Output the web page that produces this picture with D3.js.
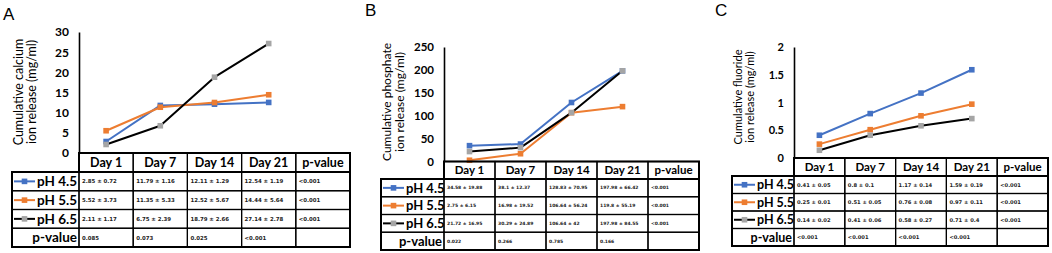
<!DOCTYPE html>
<html>
<head>
<meta charset="utf-8">
<script src="https://cdn.jsdelivr.net/npm/d3@7"></script>
<style>
  body { margin: 0; background: #fff; }
  svg { display: block; }
</style>
</head>
<body>
<div id="chart"></div>
<script>
const days = ["Day 1", "Day 7", "Day 14", "Day 21"];
const columns = ["Day 1", "Day 7", "Day 14", "Day 21", "p-value"];
const seriesNames = ["pH 4.5", "pH 5.5", "pH 6.5"];

// calcium
const calciumMean45 = [2.85, 11.79, 12.11, 12.54];
const calciumSd45 = [0.72, 1.16, 1.29, 1.19];
const calciumMean55 = [5.52, 11.35, 12.52, 14.44];
const calciumSd55 = [3.73, 5.33, 5.67, 5.64];
const calciumMean65 = [2.11, 6.75, 18.79, 27.14];
const calciumSd65 = [1.17, 2.39, 2.66, 2.78];
const calciumRowP = ["<0.001", "<0.001", "<0.001"];
const calciumDayP = ["0.085", "0.073", "0.025", "<0.001"];
const calciumTicks = [0, 5, 10, 15, 20, 25, 30];

// phosphate
const phosphateMean45 = [34.58, 38.1, 128.83, 197.98];
const phosphateSd45 = [19.88, 12.37, 70.95, 66.42];
const phosphateMean55 = [2.75, 16.98, 106.64, 119.8];
const phosphateSd55 = [6.15, 19.52, 56.24, 55.19];
const phosphateMean65 = [21.72, 30.29, 106.64, 197.98];
const phosphateSd65 = [16.95, 24.89, 42, 84.55];
const phosphateRowP = ["<0.001", "<0.001", "<0.001"];
const phosphateDayP = ["0.022", "0.266", "0.785", "0.166"];
const phosphateTicks = [0, 50, 100, 150, 200, 250];

// fluoride
const fluorideMean45 = [0.41, 0.8, 1.17, 1.59];
const fluorideSd45 = [0.05, 0.1, 0.14, 0.19];
const fluorideMean55 = [0.25, 0.51, 0.76, 0.97];
const fluorideSd55 = [0.01, 0.05, 0.08, 0.11];
const fluorideMean65 = [0.14, 0.41, 0.58, 0.71];
const fluorideSd65 = [0.02, 0.06, 0.27, 0.4];
const fluorideRowP = ["<0.001", "<0.001", "<0.001"];
const fluorideDayP = ["<0.001", "<0.001", "<0.001", "<0.001"];
const fluorideTicks = [0, 0.5, 1, 1.5, 2];

const width = 1052;
const height = 253;
const lineColors = ["#4472C4", "#ED7D31", "#000000"];
const markerColors = ["#4472C4", "#ED7D31", "#A5A5A5"];
const font = "Lato, 'Open Sans', sans-serif";

const svg = d3.select("#chart").append("svg")
  .attr("width", width).attr("height", height)
  .attr("viewBox", [0, 0, width, height]);

const panels = [
  {
    letter: "A", letterX: 3, letterY: 20,
    title: ["Cumulative calcium", "ion release (mg/ml)"], titleX: 25, titleY: 92, titleSize: 12.5,
    means: [calciumMean45, calciumMean55, calciumMean65],
    sds: [calciumSd45, calciumSd55, calciumSd65],
    rowP: calciumRowP, dayP: calciumDayP, ticks: calciumTicks,
    legendLeft: 12, axisX: 79, right: 350,
    yTop: 32, headerTop: 153, headerBottom: 172, bottom: 247,
    headSize: 12.5, legSize: 13.5, cellSize: 5.4, tickSize: 12
  },
  {
    letter: "B", letterX: 365, letterY: 16,
    title: ["Cumulative phosphate", "ion release (mg/ml)"], titleX: 393, titleY: 102, titleSize: 12,
    means: [phosphateMean45, phosphateMean55, phosphateMean65],
    sds: [phosphateSd45, phosphateSd55, phosphateSd65],
    rowP: phosphateRowP, dayP: phosphateDayP, ticks: phosphateTicks,
    legendLeft: 381, axisX: 444, right: 699,
    yTop: 47, headerTop: 161.5, headerBottom: 179, bottom: 250,
    headSize: 11.5, legSize: 13, cellSize: 4.5, tickSize: 11.5
  },
  {
    letter: "C", letterX: 715, letterY: 16,
    title: ["Cumulative fluoride", "ion release (mg/ml)"], titleX: 744, titleY: 97, titleSize: 11,
    means: [fluorideMean45, fluorideMean55, fluorideMean65],
    sds: [fluorideSd45, fluorideSd55, fluorideSd65],
    rowP: fluorideRowP, dayP: fluorideDayP, ticks: fluorideTicks,
    legendLeft: 732, axisX: 794, right: 1048,
    yTop: 47, headerTop: 158, headerBottom: 176, bottom: 246,
    headSize: 11.5, legSize: 12.5, cellSize: 5.2, tickSize: 11
  }
];

panels.forEach(drawPanel);

function drawPanel(p) {
  const g = svg.append("g");

  const x = d3.scaleBand().domain(columns).range([p.axisX, p.right]);
  const y = d3.scaleLinear()
    .domain([0, d3.max(p.ticks)])
    .range([p.headerTop, p.yTop]);
  const rowH = (p.bottom - p.headerBottom) / 4;
  const rowY = (i) => p.headerBottom + i * rowH;
  const cx = (d) => x(d) + x.bandwidth() / 2;

  // panel letter
  g.append("text")
    .attr("x", p.letterX).attr("y", p.letterY)
    .attr("font-family", "'Liberation Sans', Arial, sans-serif")
    .attr("font-size", 17)
    .text(p.letter);

  // y axis title
  g.append("text")
    .attr("transform", `translate(${p.titleX},${p.titleY}) rotate(-90)`)
    .attr("text-anchor", "middle")
    .attr("font-family", font)
    .attr("font-size", p.titleSize)
    .selectAll("tspan")
    .data(p.title)
    .join("tspan")
    .attr("x", 0)
    .attr("dy", (d, i) => (i === 0 ? "-0.2em" : "1.1em"))
    .text((d) => d);

  // y axis
  const yAxis = g.append("g")
    .attr("transform", `translate(${p.axisX},0)`)
    .call(d3.axisLeft(y).tickValues(p.ticks).tickSize(0).tickPadding(10).tickFormat(d3.format("")));
  yAxis.select(".domain").attr("stroke", "#000").attr("stroke-width", 1.6);
  yAxis.selectAll("text")
    .attr("font-family", font)
    .attr("font-weight", "bold")
    .attr("font-size", p.tickSize)
    .attr("fill", "#000");

  // lines
  const line = d3.line()
    .x((d, i) => cx(days[i]))
    .y((d) => y(d));

  p.means.forEach((vals, s) => {
    g.append("path")
      .datum(vals)
      .attr("fill", "none")
      .attr("stroke", lineColors[s])
      .attr("stroke-width", 2)
      .attr("stroke-linejoin", "round")
      .attr("d", line);
  });
  p.means.forEach((vals, s) => {
    g.selectAll(null)
      .data(vals)
      .join("rect")
      .attr("x", (d, i) => cx(days[i]) - 2.8)
      .attr("y", (d) => y(d) - 2.8)
      .attr("width", 5.6)
      .attr("height", 5.6)
      .attr("fill", markerColors[s]);
  });

  // table: header cells
  g.selectAll(null)
    .data(columns)
    .join("rect")
    .attr("x", (d) => x(d))
    .attr("y", p.headerTop)
    .attr("width", x.bandwidth())
    .attr("height", p.headerBottom - p.headerTop)
    .attr("fill", "none")
    .attr("stroke", "#000")
    .attr("stroke-width", 1.2);
  g.selectAll(null)
    .data(columns)
    .join("text")
    .attr("x", (d) => cx(d))
    .attr("y", (p.headerTop + p.headerBottom) / 2)
    .attr("dy", "0.36em")
    .attr("text-anchor", "middle")
    .attr("font-family", font)
    .attr("font-weight", "bold")
    .attr("font-size", p.headSize)
    .text((d) => d);

  // table body rows
  const rows = seriesNames.map((name, s) => ({
    name,
    cells: days.map((d, i) => `${p.means[s][i]} ± ${p.sds[s][i]}`).concat([p.rowP[s]])
  }));
  rows.push({ name: "p-value", cells: p.dayP.concat([""]) });

  rows.forEach((row, r) => {
    const top = rowY(r);
    g.append("rect")
      .attr("x", p.legendLeft).attr("y", top)
      .attr("width", p.axisX - p.legendLeft).attr("height", rowH)
      .attr("fill", "none").attr("stroke", "#000").attr("stroke-width", 1.2);
    g.selectAll(null)
      .data(columns)
      .join("rect")
      .attr("x", (d) => x(d)).attr("y", top)
      .attr("width", x.bandwidth()).attr("height", rowH)
      .attr("fill", "none").attr("stroke", "#000").attr("stroke-width", 1.2);
    g.selectAll(null)
      .data(row.cells)
      .join("text")
      .attr("x", (d, i) => x(columns[i]) + 3)
      .attr("y", top + rowH / 2)
      .attr("dy", "0.35em")
      .attr("font-family", "'DejaVu Sans', sans-serif")
      .attr("font-weight", "bold")
      .attr("font-size", p.cellSize)
      .attr("fill", "#222")
      .text((d) => d);

    // legend key
    if (r < 3) {
      const ly = top + rowH / 2;
      g.append("line")
        .attr("x1", p.legendLeft + 2).attr("x2", p.legendLeft + 23)
        .attr("y1", ly).attr("y2", ly)
        .attr("stroke", lineColors[r]).attr("stroke-width", 2);
      g.append("rect")
        .attr("x", p.legendLeft + 12.5 - 2.8).attr("y", ly - 2.8)
        .attr("width", 5.6).attr("height", 5.6)
        .attr("fill", markerColors[r]);
      g.append("text")
        .attr("x", p.legendLeft + 25).attr("y", ly).attr("dy", "0.36em")
        .attr("font-family", font).attr("font-weight", "bold")
        .attr("font-size", p.legSize)
        .text(row.name);
    } else {
      g.append("text")
        .attr("x", p.axisX - 2).attr("y", top + rowH / 2).attr("dy", "0.36em")
        .attr("text-anchor", "end")
        .attr("font-family", font).attr("font-weight", "bold")
        .attr("font-size", p.legSize)
        .text(row.name);
    }
  });

  // thick outer borders
  g.append("rect")
    .attr("x", p.axisX).attr("y", p.headerTop)
    .attr("width", p.right - p.axisX).attr("height", p.headerBottom - p.headerTop)
    .attr("fill", "none").attr("stroke", "#000").attr("stroke-width", 2);
  g.append("rect")
    .attr("x", p.legendLeft).attr("y", p.headerBottom)
    .attr("width", p.right - p.legendLeft).attr("height", p.bottom - p.headerBottom)
    .attr("fill", "none").attr("stroke", "#000").attr("stroke-width", 2);
}
</script>
</body>
</html>
